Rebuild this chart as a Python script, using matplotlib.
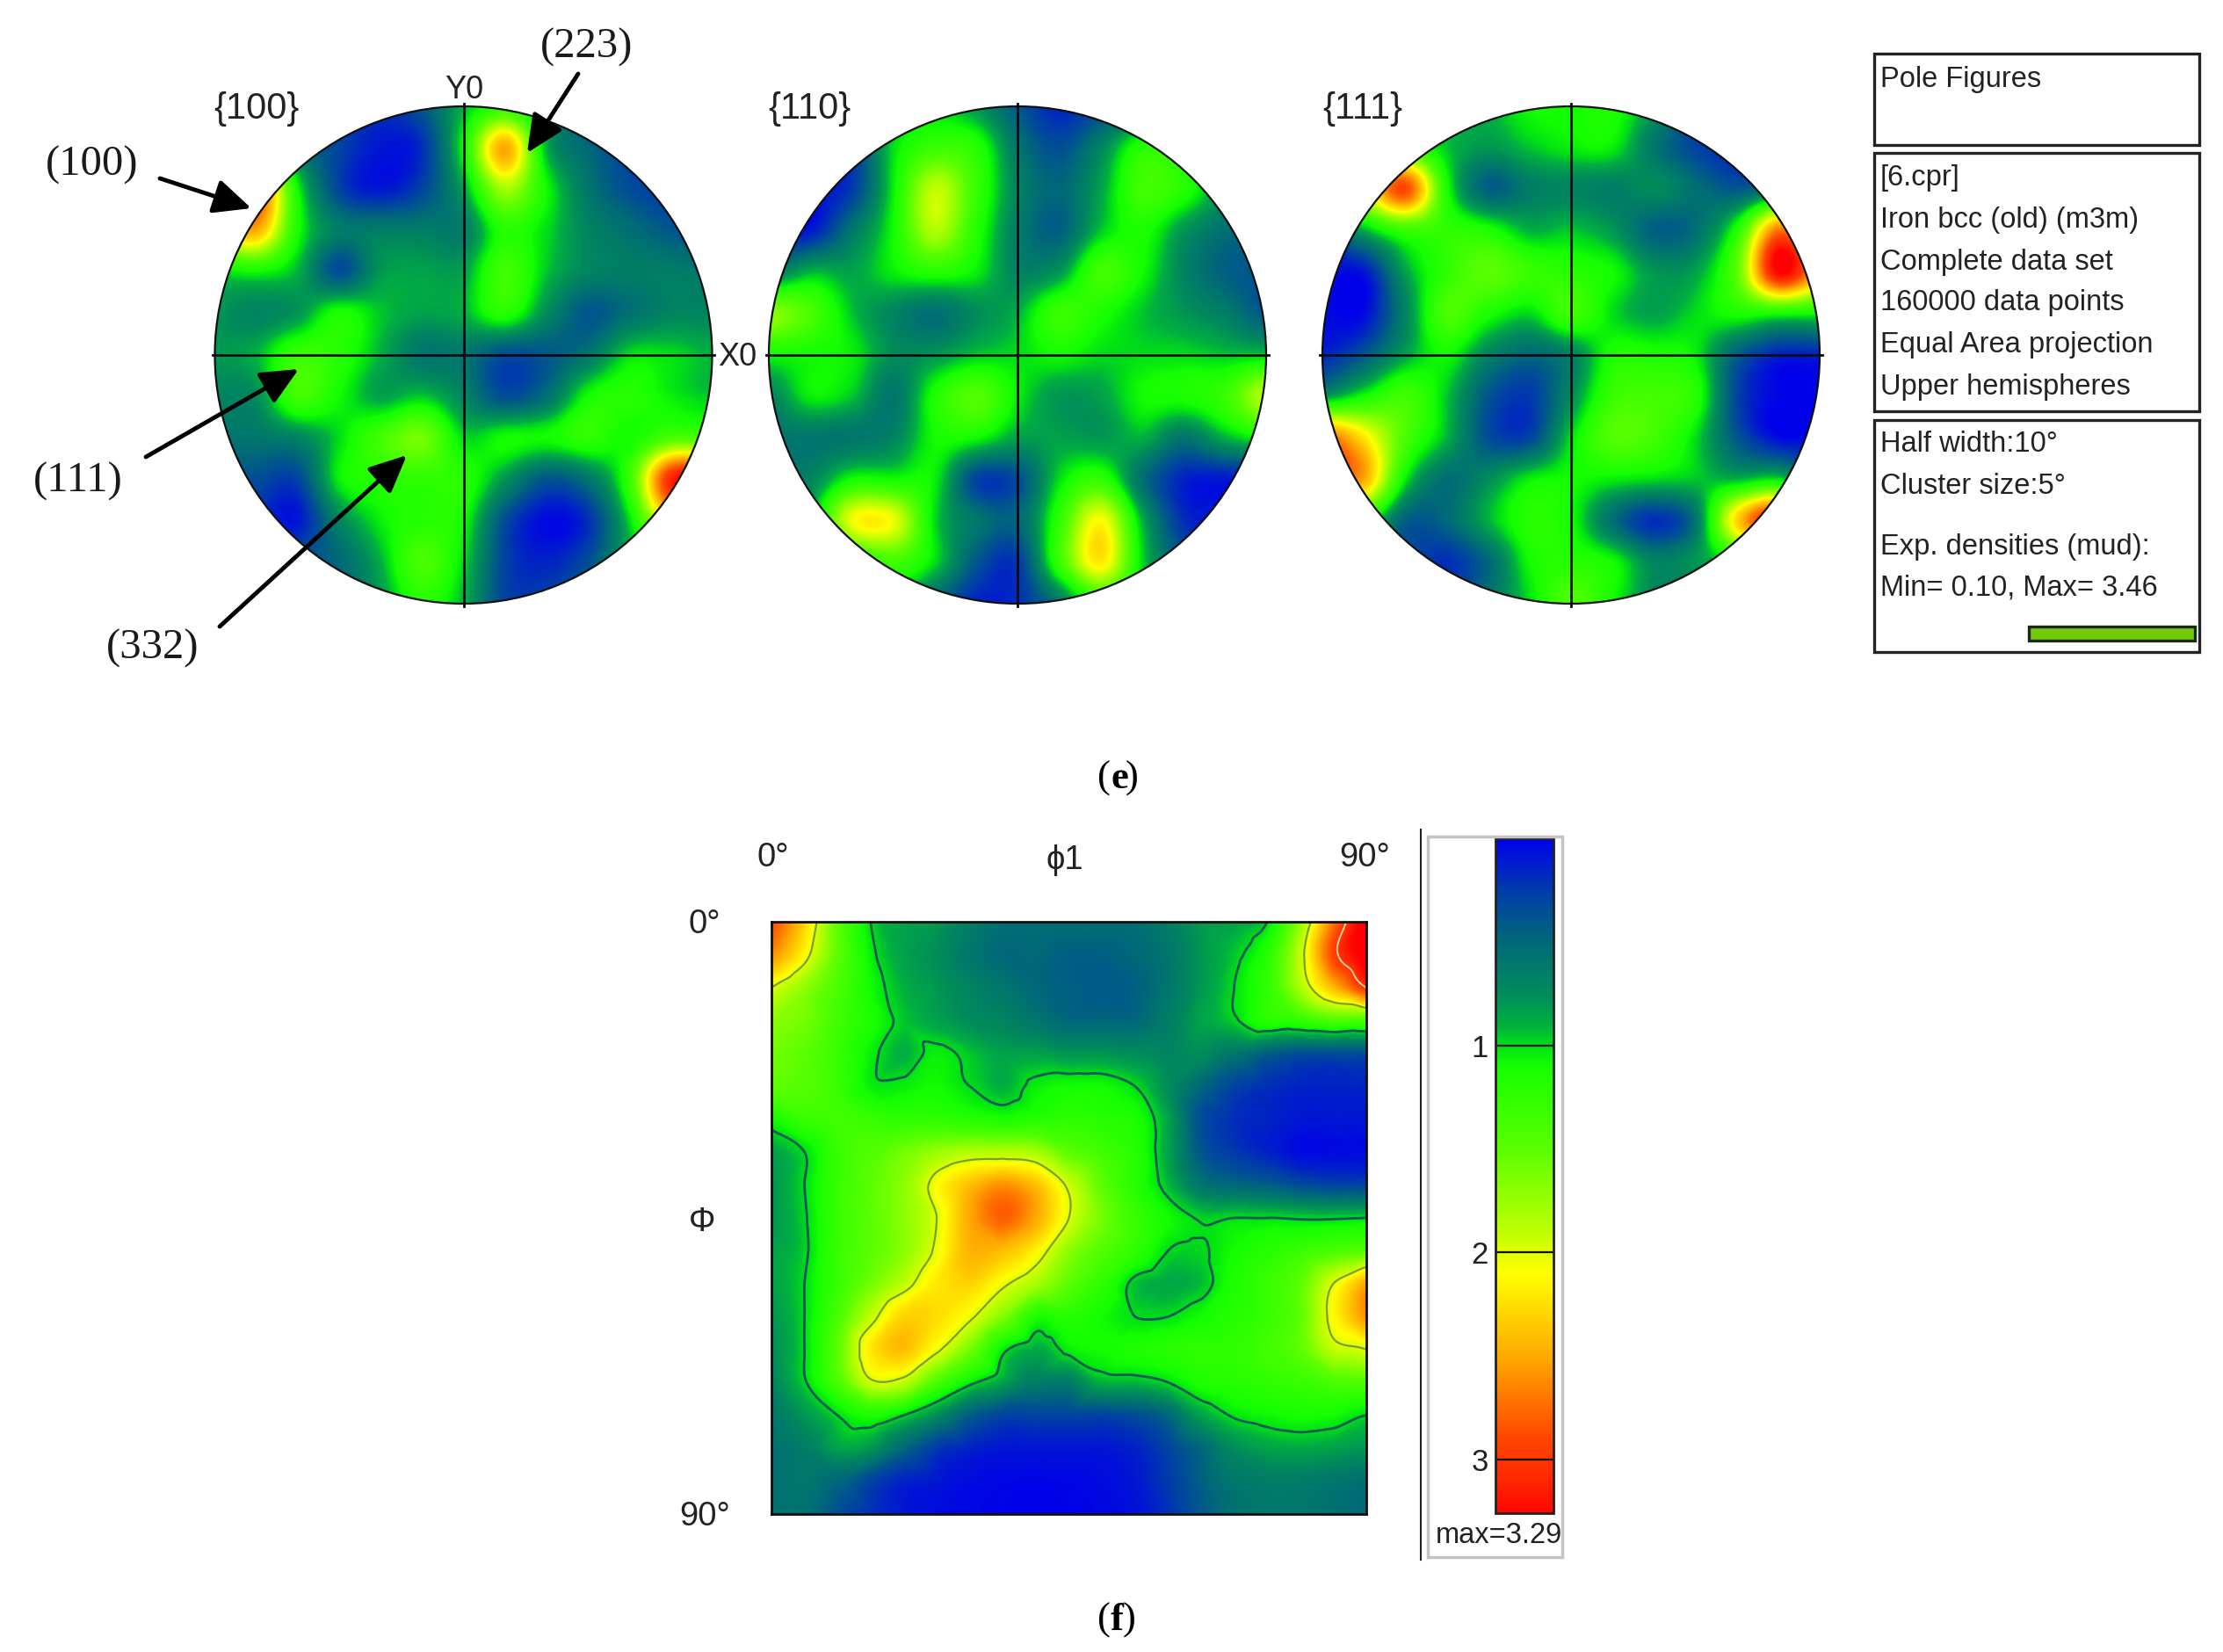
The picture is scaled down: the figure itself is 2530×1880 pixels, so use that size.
import matplotlib
matplotlib.use('Agg')
import matplotlib.pyplot as plt
import matplotlib.tri as mtri
import numpy as np
from matplotlib.colors import LinearSegmentedColormap, Normalize
from matplotlib.cm import ScalarMappable
from matplotlib.patches import Circle, Rectangle

W, H = 2530, 1880

pf_100 = [
    [.3, .3, .3, .3, .2, .4, .9, 1.2, .8, .3, .3, .3, .3],
    [.8, 1.5, .6, .3, .1, .2, 1.1, 2.5, .9, .5, .3, .3, .3],
    [1.5, 2.8, 1.1, .3, .1, .3, .85, 1.8, 1.1, .6, .35, .25, .25],
    [2.0, 2.5, 1.15, .65, .65, .65, .65, 1.2, 1.0, .7, .55, .4, .3],
    [1.0, 1.1, .9, .35, .8, .85, .85, 1.35, .95, .7, .65, .65, .6],
    [.8, .7, .8, 1.15, .95, .85, .9, 1.2, .75, .4, .55, .7, .7],
    [.8, .9, 1.3, 1.2, .9, .6, .6, .35, .4, .6, 1.0, 1.0, .9],
    [.7, .75, 1.35, 1.1, .85, .95, .7, .35, .55, 1.1, 1.2, 1.05, .95],
    [.6, .6, .7, 1.0, 1.35, 1.6, 1.0, 1.1, 1.1, 1.25, 1.1, 1.4, 1.4],
    [.4, .35, .3, 1.05, 1.2, 1.25, 1.2, .8, .4, .6, 1.3, 3.1, 3.2],
    [.3, .2, .1, .7, 1.05, 1.2, 1.1, .35, .05, .2, 1.0, 2.2, 2.2],
    [.3, .3, .4, .5, .9, 1.4, 1.0, .3, .15, .35, .8, .8, .8],
    [.4, .4, .4, .5, .8, 1.2, .9, .3, .3, .5, .7, .7, .7],
]

pf_110 = [
    [.6, .6, .8, .9, 1.0, .8, .4, .15, .3, .5, .7, .7, .7],
    [.3, .3, .3, 1.0, 1.3, 1.2, .6, .35, .7, 1.2, 1.1, .9, .7],
    [.1, .1, .25, 1.05, 1.9, 1.3, .7, .5, .85, 1.35, 1.2, .8, .7],
    [.1, .1, .6, 1.1, 1.85, 1.2, .65, .45, .95, 1.15, .8, .55, .5],
    [.6, .9, .85, 1.05, 1.2, 1.05, .7, .8, 1.35, 1.1, .7, .45, .4],
    [1.7, 1.4, .95, .7, .55, .75, .9, 1.3, 1.15, .95, .8, .65, .4],
    [1.1, 1.1, 1.05, .75, .8, .95, 1.0, 1.1, 1.0, 1.0, 1.0, .95, .95],
    [.7, 1.05, .95, .6, 1.15, 1.45, 1.05, .8, .85, 1.1, 1.15, 1.3, 1.9],
    [.6, .6, .6, .7, 1.1, 1.1, .85, .85, .8, .9, .6, .9, 1.1],
    [.6, .7, 1.1, 1.1, 1.05, .3, .35, 1.0, 1.25, .55, .15, .1, .1],
    [.7, .9, 2.05, 2.05, 1.0, .6, .5, 1.25, 2.1, .9, .2, .15, .15],
    [.8, .8, 1.1, 1.35, 1.0, .4, .25, 1.3, 2.2, 1.0, .4, .3, .3],
    [.8, .8, .8, .9, .5, .15, .2, .6, 1.2, .9, .5, .4, .4],
]

pf_111 = [
    [.7, .7, .8, .9, .9, 1.1, 1.1, 1.15, .8, .3, .2, .2, .2],
    [1.0, 1.5, 1.3, .95, .8, .95, 1.05, 1.05, .6, .3, .15, .2, .2],
    [1.3, 2.0, 2.9, 1.15, .45, .65, .7, .65, .75, .55, .4, .6, .8],
    [.3, .9, 1.3, 1.25, 1.15, .9, .95, .8, .45, .55, 1.2, 2.7, 2.0],
    [.1, .1, .85, 1.25, 1.5, 1.3, 1.2, 1.1, .8, .85, 1.5, 3.3, 2.5],
    [.05, .05, .7, 1.4, 1.15, 1.0, 1.35, 1.0, .85, 1.0, 1.15, 1.15, 1.1],
    [.15, .4, .85, 1.1, .7, .5, .7, 1.15, 1.15, 1.05, .45, .15, .15],
    [.8, 1.1, 1.35, .95, .4, .25, .75, 1.3, 1.35, 1.2, .3, .02, .02],
    [2.8, 2.2, 1.4, .9, .35, .3, 1.0, 1.45, 1.35, 1.0, .4, .05, .05],
    [2.8, 2.5, 1.05, .55, .75, 1.05, 1.1, 1.05, 1.0, .95, .9, 1.0, .5],
    [1.5, 1.2, .45, .5, .9, 1.2, 1.1, .55, .2, .6, 2.3, 3.0, 1.0],
    [.4, .4, .35, .2, .5, 1.1, 1.2, 1.1, .7, .8, 1.0, 1.0, .8],
    [.3, .3, .3, .3, .6, 1.0, 1.45, 1.1, .7, .5, .5, .5, .5],
]

# ODF section, rows are Phi 0..90 and columns phi1 0..90 in 5 degree steps
odf_section = [
    [2.9, 2.3, 1.5, 1.0, .85, .8, .65, .55, .55, .55, .55, .55, .65, .8, .85, 1.0, 1.7, 2.7, 3.4],
    [2.6, 2.1, 1.5, 1.05, .85, .75, .6, .5, .5, .45, .45, .5, .6, .8, .95, 1.2, 1.9, 2.9, 3.4],
    [2.0, 1.7, 1.4, 1.1, .9, .8, .7, .6, .5, .45, .42, .45, .6, .8, 1.0, 1.25, 1.8, 2.4, 3.0],
    [1.7, 1.6, 1.35, 1.15, .95, .85, .75, .7, .6, .5, .5, .5, .65, .85, .97, 1.2, 1.25, 1.4, 1.4],
    [1.6, 1.5, 1.3, 1.05, .9, 1.05, .95, .85, .85, .8, .8, .75, .7, .75, .6, .45, .35, .35, .35],
    [1.5, 1.45, 1.3, 1.05, 1.05, 1.1, 1.0, .9, 1.05, 1.1, 1.1, 1.0, .75, .5, .3, .2, .15, .15, .15],
    [1.1, 1.3, 1.35, 1.3, 1.25, 1.25, 1.2, 1.15, 1.2, 1.25, 1.2, 1.15, .85, .35, .2, .15, .1, .1, .1],
    [.85, 1.0, 1.3, 1.45, 1.6, 1.75, 1.85, 1.85, 1.8, 1.5, 1.35, 1.2, .85, .4, .25, .15, .05, .05, .05],
    [.8, 1.0, 1.3, 1.5, 1.7, 2.1, 2.4, 2.6, 2.4, 1.95, 1.5, 1.2, .93, .6, .5, .45, .35, .3, .3],
    [.8, .98, 1.3, 1.5, 1.7, 2.0, 2.5, 2.8, 2.5, 2.0, 1.6, 1.3, 1.1, .98, 1.0, 1.0, .98, .98, 1.0],
    [.85, .97, 1.3, 1.5, 1.7, 2.05, 2.45, 2.4, 2.15, 1.7, 1.45, 1.25, 1.0, .98, 1.1, 1.2, 1.3, 1.4, 1.5],
    [.85, 1.0, 1.3, 1.6, 1.9, 2.2, 2.3, 2.05, 1.8, 1.5, 1.25, .95, .88, .93, 1.15, 1.3, 1.5, 2.0, 2.5],
    [.8, 1.0, 1.4, 1.9, 2.3, 2.25, 2.05, 1.65, 1.15, 1.2, 1.1, 1.0, 1.0, 1.1, 1.2, 1.3, 1.5, 2.1, 2.6],
    [.75, 1.0, 1.5, 2.2, 2.4, 2.05, 1.6, 1.05, .88, 1.05, 1.1, 1.15, 1.2, 1.25, 1.25, 1.35, 1.5, 1.9, 2.0],
    [.7, .98, 1.4, 1.95, 1.9, 1.4, 1.05, .85, .65, .65, .9, .92, 1.0, 1.15, 1.2, 1.25, 1.3, 1.4, 1.45],
    [.6, .8, 1.0, 1.15, 1.0, .75, .45, .3, .3, .3, .3, .35, .5, .85, 1.02, 1.08, 1.12, 1.1, 1.0],
    [.55, .65, .85, .8, .5, .25, .15, .1, .1, .1, .1, .15, .3, .5, .75, .85, .88, .85, .8],
    [.55, .6, .5, .3, .15, .1, .05, .03, .02, .03, .05, .1, .25, .45, .6, .65, .65, .6, .55],
    [.55, .55, .35, .2, .1, .05, .03, .01, 0, .01, .03, .07, .2, .4, .55, .6, .6, .55, .5],
]

odf_levels = [1, 2, 3]
odf_max = 3.29
bar_ticks = [1, 2, 3]
info_lines = ['[6.cpr]', 'Iron bcc (old) (m3m)', 'Complete data set', '160000 data points',
              'Equal Area projection', 'Upper hemispheres']
density_lines = ['Half width:10°', 'Cluster size:5°', 'Exp. densities (mud):', 'Min= 0.10, Max= 3.46']

# colour scale of the density bar
cmap_stops = [(0, (0, 0, 235)), (.25, (0, 60, 170)), (.5, (0, 105, 120)), (.75, (0, 140, 90)),
              (.9, (0, 175, 65)), (1.0, (0, 225, 20)), (1.1, (20, 255, 0)), (1.5, (90, 255, 0)),
              (1.9, (190, 255, 0)), (2.1, (255, 255, 0)), (2.5, (255, 170, 0)), (2.9, (255, 70, 0)),
              (3.1, (255, 40, 0)), (3.29, (255, 0, 0))]
tex_cmap = LinearSegmentedColormap.from_list(
    'tex', [(v / 3.29, tuple(c / 255 for c in rgb)) for v, rgb in cmap_stops], N=512)
norm = Normalize(0, odf_max)

SANS = 'Liberation Sans'
SERIF = 'Liberation Serif'
TXT = '#222222'

fig = plt.figure(figsize=(W / 100, H / 100), dpi=100, facecolor='white')


def px_axes(x0, y0, x1, y1):
    return fig.add_axes([x0 / W, 1 - y1 / H, (x1 - x0) / W, (y1 - y0) / H])


# overlay in picture pixels for the labels and the boxes
over = fig.add_axes([0, 0, 1, 1], zorder=5)
over.set_xlim(0, W)
over.set_ylim(H, 0)
over.axis('off')
over.patch.set_alpha(0)

# pole figures
radius = 283
for grid, cx in zip([pf_100, pf_110, pf_111], [527.5, 1158, 1788]):
    cy = 404
    pad = 1.04
    ax = px_axes(cx - radius * pad, cy - radius * pad, cx + radius * pad, cy + radius * pad)
    ax.set_xlim(-pad, pad)
    ax.set_ylim(-pad, pad)
    ax.axis('off')
    arr = np.array(grid)
    h = 1 / 6 / 2
    im = ax.imshow(arr, extent=[-1 - h, 1 + h, -1 - h, 1 + h], cmap=tex_cmap, norm=norm,
                   interpolation='catrom', origin='upper', aspect='auto')
    clip = Circle((0, 0), 1, transform=ax.transData)
    im.set_clip_path(clip)
    ax.add_patch(Circle((0, 0), 1, fill=False, ec='#101010', lw=1.6))
    ax.plot([-1.01, 1.01], [0, 0], color='#0a0a14', lw=2)
    ax.plot([0, 0], [-1.01, 1.01], color='#0a0a14', lw=2)

for label, x in zip(['{100}', '{110}', '{111}'], [292, 921, 1551]):
    over.text(x, 124, label, family=SANS, fontsize=30, color=TXT, ha='center', va='center')
over.text(528, 102, 'Y0', family=SANS, fontsize=26, color=TXT, ha='center', va='center')
over.text(839, 406, 'X0', family=SANS, fontsize=26, color=TXT, ha='center', va='center')

# annotated peaks
plane_labels = ['(223)', '(100)', '(111)', '(332)']
label_xy = [(668, 54), (105, 188), (89, 548), (174, 738)]
arrow_from = [(658, 84), (182, 203), (166, 520), (250, 713)]
arrow_to = [(600, 174), (286, 237), (340, 420), (463, 518)]
for name, xy, a, b in zip(plane_labels, label_xy, arrow_from, arrow_to):
    over.text(xy[0], xy[1], name, family=SERIF, fontsize=35, color='#1a1a1a', ha='center', va='center')
    over.annotate('', xy=b, xytext=a,
                  arrowprops=dict(arrowstyle='-|>,head_length=1.3,head_width=0.6', color='black', lw=3.5,
                                  shrinkA=0, shrinkB=0, mutation_scale=20))

# text boxes on the right
for y0, y1 in [(61, 165), (174, 468), (478, 742)]:
    over.add_patch(Rectangle((2133, y0), 370, y1 - y0, fill=False, ec='#222222', lw=2.4))
over.text(2140, 90, 'Pole Figures', family=SANS, fontsize=23.5, color=TXT, va='center')
for line, y in zip(info_lines, [203, 251, 298, 345, 393, 440]):
    over.text(2140, y, line, family=SANS, fontsize=23.5, color=TXT, va='center')
for line, y in zip(density_lines, [506, 553, 623, 669]):
    over.text(2140, y, line, family=SANS, fontsize=23.5, color=TXT, va='center')
over.add_patch(Rectangle((2309, 713), 189, 16, fc='#74c90a', ec='#1a2a10', lw=2.4))

over.text(1264, 886, '(', family=SERIF, fontsize=32, color='black', ha='right', va='center')
over.text(1264, 886, 'e', family=SERIF, fontsize=32, weight='bold', color='black', ha='left', va='center')
over.text(1281, 886, ')', family=SERIF, fontsize=32, color='black', ha='left', va='center')
over.text(1264, 1844, '(', family=SERIF, fontsize=32, color='black', ha='right', va='center')
over.text(1264, 1844, 'f', family=SERIF, fontsize=32, weight='bold', color='black', ha='left', va='center')
over.text(1278, 1844, ')', family=SERIF, fontsize=32, color='black', ha='left', va='center')

# ODF section, smoothed onto a fine mesh so the contours are not angular
odf = np.array(odf_section)
phi1 = np.linspace(0, 90, odf.shape[1])
Phi = np.linspace(0, 90, odf.shape[0])
gx, gy = np.meshgrid(phi1, Phi)
tri = mtri.Triangulation(gx.ravel(), gy.ravel())
interp = mtri.CubicTriInterpolator(tri, odf.ravel(), kind='geom')
fx = np.linspace(1e-6, 90 - 1e-6, 451)
fy = np.linspace(1e-6, 90 - 1e-6, 451)
mx, my = np.meshgrid(fx, fy)
fine = np.ma.filled(interp(mx, my), np.nan)

ax = px_axes(878, 1049, 1555, 1723)
ax.imshow(fine, extent=[0, 90, 90, 0], cmap=tex_cmap, norm=norm, aspect='auto', interpolation='bilinear')
ax.contour(mx, my, fine, levels=odf_levels, colors=['#0b5a58', '#76a030', '#f4d0a8'], linewidths=[2, 1.6, 1.4])
ax.set_xlim(0, 90)
ax.set_ylim(90, 0)
ax.set_xticks([])
ax.set_yticks([])
for s in ax.spines.values():
    s.set_linewidth(2)
    s.set_color('#101010')

for s, x, y in [('0°', 880, 976), ('ϕ1', 1212, 979), ('90°', 1553, 976),
                ('0°', 802, 1052), ('Φ', 799, 1391), ('90°', 802, 1726)]:
    over.text(x, y, s, family=['Liberation Sans', 'DejaVu Sans'], fontsize=27.5, color=TXT, ha='center', va='center')

# colour bar and its frame
over.plot([1617, 1617], [944, 1775], color='#222222', lw=1.5)
over.add_patch(Rectangle((1625, 952), 153, 820, fill=False, ec='#c4c4c4', lw=2.5))
cax = px_axes(1702, 954, 1768, 1722)
cb = fig.colorbar(ScalarMappable(norm=norm, cmap=tex_cmap), cax=cax, ticks=bar_ticks)
cax.set_ylim(3.26, 0)
cax.yaxis.set_ticks_position('left')
cb.ax.tick_params(length=0, labelsize=25, labelcolor=TXT, pad=6)
cb.outline.set_linewidth(2)
cb.outline.set_edgecolor('#222222')
for t in cax.get_yticklabels():
    t.set_family(SANS)
cax.hlines(bar_ticks, 0, 1, colors='#101010', lw=1.6, transform=cax.get_yaxis_transform())
over.text(1706, 1747, f'max={odf_max}', family=SANS, fontsize=23.5, color=TXT, ha='center', va='center')

fig.savefig('out.png', dpi=100, facecolor='white')
